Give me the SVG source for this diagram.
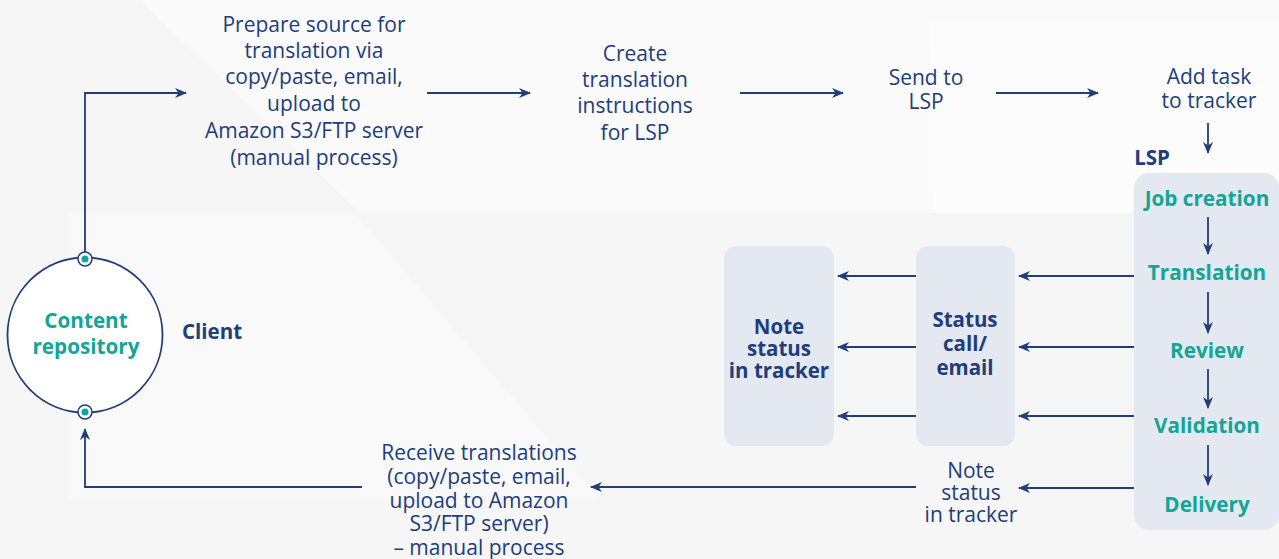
<svg xmlns="http://www.w3.org/2000/svg" width="1279" height="559" viewBox="0 0 1279 559">
<style>
.t{font-family:"Open Sans","Noto Sans","Liberation Sans",sans-serif;font-size:21px;fill:#213d7a;text-anchor:middle}
.b{font-weight:bold;font-size:20.5px}
.g{font-family:"Open Sans","Noto Sans","Liberation Sans",sans-serif;font-size:20.7px;font-weight:bold;fill:#13a595;text-anchor:middle}
.box{fill:#e3e8f1}
.ln{fill:none;stroke:#213d7a;stroke-width:1.8}
</style>
<defs>
<marker id="ah" viewBox="0 0 12 10" refX="11" refY="5" markerWidth="12" markerHeight="10" markerUnits="userSpaceOnUse" orient="auto">
<path d="M0,0 L12,5 L0,10 L3.5,5 z" fill="#213d7a"/>
</marker>
</defs>
<rect width="1279" height="559" fill="#f6f6f7"/>
<polygon points="140,0 1279,0 1279,213 360,213" fill="#fafafb"/>
<polygon points="930,22 1279,22 1279,213 933,213" fill="#fcfcfd"/>
<polygon points="68,213 355,213 600,500 68,500" fill="#f9f9fa"/>
<g id="content-repository">
<circle cx="85" cy="335" r="77.5" fill="#ffffff" stroke="#213d7a" stroke-width="1.8"/>
<text class="g" x="86" y="328">Content</text>
<text class="g" x="86" y="354">repository</text>
</g>
<g id="client-label"><text class="t b" x="212" y="339">Client</text></g>
<g id="prepare-source">
<text class="t" x="314" y="32">Prepare source for</text>
<text class="t" x="314" y="58">translation via</text>
<text class="t" x="314" y="84">copy/paste, email,</text>
<text class="t" x="314" y="111">upload to</text>
<text class="t" x="314" y="138">Amazon S3/FTP server</text>
<text class="t" x="314" y="165">(manual process)</text>
</g>
<g id="create-instructions">
<text class="t" x="635" y="61">Create</text>
<text class="t" x="635" y="87">translation</text>
<text class="t" x="635" y="113">instructions</text>
<text class="t" x="635" y="140">for LSP</text>
</g>
<g id="send-to-lsp">
<text class="t" x="926" y="85">Send to</text>
<text class="t" x="926" y="109">LSP</text>
</g>
<g id="add-task">
<text class="t" x="1209" y="84">Add task</text>
<text class="t" x="1209" y="108">to tracker</text>
</g>
<g id="lsp">
<text class="t b" x="1152" y="165">LSP</text>
<rect class="box" x="1134" y="173" width="145" height="357" rx="15"/>
<text class="g" x="1207" y="206">Job creation</text>
<text class="g" x="1207" y="280">Translation</text>
<text class="g" x="1207" y="358">Review</text>
<text class="g" x="1207" y="433">Validation</text>
<text class="g" x="1207" y="512">Delivery</text>
</g>
<g id="status-call">
<rect class="box" x="916" y="246" width="99" height="200" rx="12"/>
<text class="t b" x="965" y="327">Status</text>
<text class="t b" x="965" y="351">call/</text>
<text class="t b" x="965" y="375">email</text>
</g>
<g id="note-status-box">
<rect class="box" x="724" y="246" width="110" height="200" rx="12"/>
<text class="t b" x="779" y="334">Note</text>
<text class="t b" x="779" y="356">status</text>
<text class="t b" x="779" y="378">in tracker</text>
</g>
<g id="note-status-text">
<text class="t" x="971" y="478">Note</text>
<text class="t" x="971" y="500">status</text>
<text class="t" x="971" y="522">in tracker</text>
</g>
<g id="receive-translations">
<text class="t" x="479" y="460">Receive translations</text>
<text class="t" x="479" y="484">(copy/paste, email,</text>
<text class="t" x="479" y="508">upload to Amazon</text>
<text class="t" x="479" y="531">S3/FTP server)</text>
<text class="t" x="479" y="555">– manual process</text>
</g>
<g id="connectors">
<polyline class="ln" points="85,252 85,93 186,93" marker-end="url(#ah)"/>
<line class="ln" x1="427" y1="93" x2="530" y2="93" marker-end="url(#ah)"/>
<line class="ln" x1="740" y1="93" x2="843" y2="93" marker-end="url(#ah)"/>
<line class="ln" x1="996" y1="93" x2="1098" y2="93" marker-end="url(#ah)"/>
<line class="ln" x1="1208" y1="123" x2="1208" y2="153" marker-end="url(#ah)"/>
<line class="ln" x1="1208" y1="217" x2="1208" y2="254" marker-end="url(#ah)"/>
<line class="ln" x1="1208" y1="292" x2="1208" y2="333" marker-end="url(#ah)"/>
<line class="ln" x1="1208" y1="369" x2="1208" y2="408" marker-end="url(#ah)"/>
<line class="ln" x1="1208" y1="445" x2="1208" y2="485" marker-end="url(#ah)"/>
<line class="ln" x1="1134" y1="276" x2="1019" y2="276" marker-end="url(#ah)"/>
<line class="ln" x1="1134" y1="347" x2="1019" y2="347" marker-end="url(#ah)"/>
<line class="ln" x1="1134" y1="416" x2="1019" y2="416" marker-end="url(#ah)"/>
<line class="ln" x1="916" y1="276" x2="838" y2="276" marker-end="url(#ah)"/>
<line class="ln" x1="916" y1="347" x2="838" y2="347" marker-end="url(#ah)"/>
<line class="ln" x1="916" y1="416" x2="838" y2="416" marker-end="url(#ah)"/>
<line class="ln" x1="1134" y1="488" x2="1019" y2="488" marker-end="url(#ah)"/>
<line class="ln" x1="916" y1="487" x2="591" y2="487" marker-end="url(#ah)"/>
<polyline class="ln" points="362,487 85,487 85,429" marker-end="url(#ah)"/>
</g>
<g id="ports">
<circle cx="85" cy="259" r="7" fill="#ffffff" stroke="#213d7a" stroke-width="1.5"/>
<circle cx="85" cy="259" r="3.5" fill="#13a595"/>
<circle cx="85" cy="412" r="7" fill="#ffffff" stroke="#213d7a" stroke-width="1.5"/>
<circle cx="85" cy="412" r="3.5" fill="#13a595"/>
</g>
</svg>
